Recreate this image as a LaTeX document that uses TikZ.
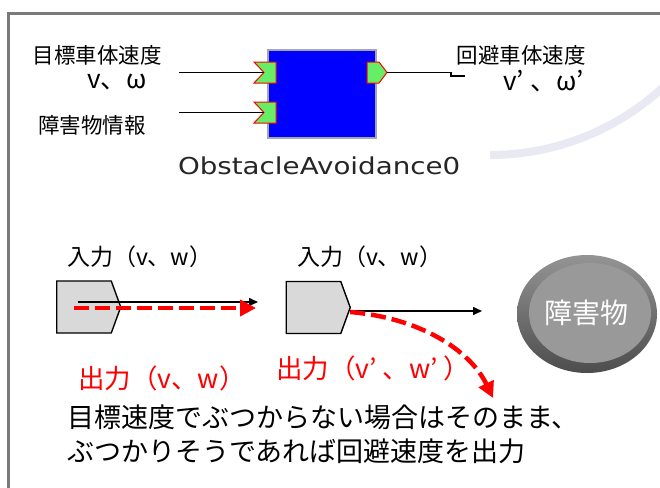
\documentclass[tikz,border=0pt]{standalone}
\usepackage{fontspec}
\usepackage{graphicx}
\setmainfont{Noto Sans CJK JP}
\newfontfamily\dejavu{DejaVu Sans}
\usetikzlibrary{arrows.meta,shapes.symbols,shapes.geometric,calc}
\definecolor{framegray}{HTML}{7A7A7A}
\definecolor{arccol}{HTML}{E9E9F4}
\definecolor{portgreen}{HTML}{66EE66}
\definecolor{boxgray}{HTML}{D9D9D9}
\definecolor{compblue}{HTML}{0000FF}
\definecolor{redc}{HTML}{FF0000}
\tikzset{
  txt/.style={inner sep=0pt, outer sep=0pt},
  port/.style={draw=redc, line width=1pt, fill=portgreen},
  wire/.style={line width=1.2pt, black},
  blkarrow/.style={line width=1.6pt, black, -{Triangle[length=9pt,width=8pt]}},
  redarrow/.style={line width=4.5pt, redc, dash pattern=on 15pt off 6pt, -{Triangle[length=16pt,width=16pt]}},
  sigbox/.style={signal, signal to=east, signal pointer angle=140, draw=black, line width=1.4pt, fill=boxgray, minimum width=64pt, minimum height=52pt, inner sep=0pt, outer sep=0pt},
}
\begin{document}
\begin{tikzpicture}[x=1pt,y=-1pt]
\useasboundingbox (0,0) rectangle (660,487);
\fill[white] (0,0) rectangle (660,487);
% faint background arc
\begin{scope}
\clip (0,0) rectangle (660,487);
\draw[arccol, line width=8pt] (490,155) arc[start angle=90, end angle=38, radius=255];
\end{scope}
% frame
\draw[framegray, line width=3pt] (8.7,490) -- (8.7,13.7) -- (665,13.7);

% component
\node[draw=black!35, line width=1.5pt, fill=compblue, minimum width=108pt, minimum height=88pt, inner sep=0pt] (comp) at (322,94) {};
\draw[port] (254,62) -- (276,62) -- (276,83) -- (254,83) -- (264,72.5) -- cycle;
\coordinate (in1) at (264,72.5);
\draw[port] (254,102) -- (276,102) -- (276,123) -- (254,123) -- (264,112.5) -- cycle;
\coordinate (in2) at (264,112.5);
\draw[port] (367,62) -- (379,62) -- (387,72.5) -- (379,83) -- (367,83) -- cycle;
\coordinate (out) at (387,72.5);
\coordinate (s1) at (179,72.5);
\coordinate (s2) at (179,112.5);
\coordinate (o1) at (451,72.5);
\coordinate (o2) at (465,76);
\draw[wire] (s1) -- (in1);
\draw[wire] (s2) -- (in2);
\draw[wire] (out) -- (o1) -- (o1 |- o2) -- (o2);

\node[txt, font=\fontsize{21.5}{25}\selectfont] (t1) at (97,55) {目標車体速度};
\node[txt, font=\fontsize{26}{30}\selectfont, anchor=base west] (vw) at (87,88) {v、ω};
\node[txt, font=\fontsize{21.5}{25}\selectfont] (t2) at (92,125) {障害物情報};
\node[txt, font=\fontsize{21.5}{25}\selectfont] (t3) at (521,55) {回避車体速度};
\node[txt, font=\fontsize{26}{30}\selectfont, anchor=base west] (vw2) at (503,90) {v’\hspace{7pt}、ω’};
\node[txt, anchor=base west, text=black!85] (name) at (178,174) {\scalebox{1.19}[1]{\fontsize{23.3}{28}\dejavu ObstacleAvoidance0}};

% lower part
\node[sigbox] (b1) at (84,307) {};
\node[sigbox] (b2) at (313.5,307.5) {};
\node[txt, font=\fontsize{23}{27}\selectfont, anchor=west] (in1t) at (67,257) {入力（v、w）};
\node[txt, font=\fontsize{23}{27}\selectfont, anchor=west] (in2t) at (297,257) {入力（v、w）};

% obstacle
\node[ellipse, minimum width=140pt, minimum height=118pt, top color=black!42, bottom color=black!70, inner sep=0pt] (obs) at (587,314) {};
\fill[black!40] (590,313) ellipse [x radius=61, y radius=50];
\node[txt, text=white, font=\fontsize{28}{32}\selectfont] (obst) at (586,313) {障害物};

\coordinate (a1s) at (78,302);
\coordinate (a1e) at (258,302);
\coordinate (r1s) at (74,308);
\coordinate (r1e) at (256,308);
\coordinate (a2e) at (482,311);
\coordinate (r2e) at (493,398);
\draw[blkarrow] (a1s) -- (a1e);
\draw[redarrow] (r1s) -- (r1e);
\draw[blkarrow] ($(b2.east)+(0,3.5)$) -- (a2e);
\draw[redarrow] ($(b2.east)+(0,4.5)$) .. controls (420,318) and (470,350) .. (r2e);

\node[txt, text=redc, font=\fontsize{26.5}{31}\selectfont, anchor=west] (o1t) at (78,378) {出力（v、w）};
\node[txt, text=redc, font=\fontsize{26.5}{31}\selectfont, anchor=west] (o2t) at (276,368) {出力（v’\hspace{6pt}、w’\hspace{6pt}）};

\node[txt, font=\fontsize{27}{32}\selectfont, anchor=west] (l1) at (67,417) {目標速度でぶつからない場合はそのまま、};
\node[txt, font=\fontsize{27}{32}\selectfont, anchor=west] (l2) at (67,451) {ぶつかりそうであれば回避速度を出力};
\end{tikzpicture}
\end{document}
